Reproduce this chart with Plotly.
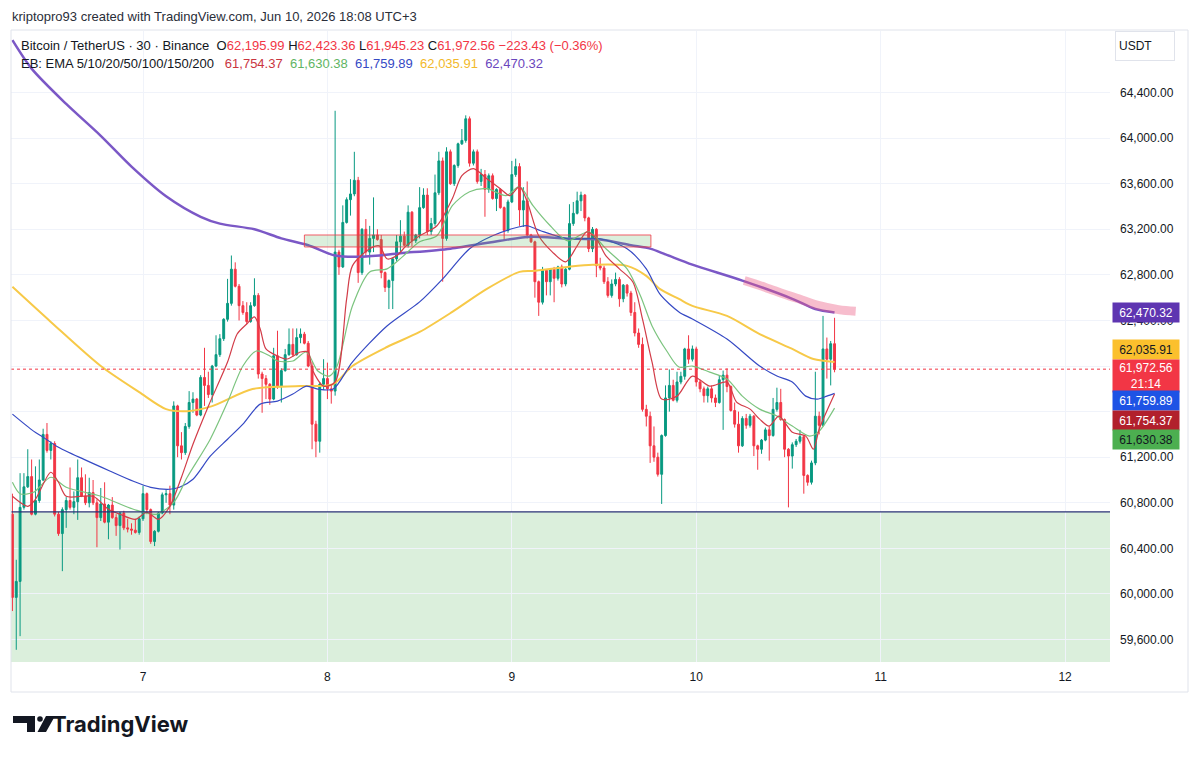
import numpy as np
import pandas as pd
import plotly.graph_objects as go

# BTCUSDT 30m candles (Binance)
first_candle = '2026-06-06 07:00'

opens = [
    60700, 59970, 60110, 60760, 60940, 61030, 60700, 60820, 61000, 61400,
    61260, 61320, 60700, 60530, 60740, 60820, 60760, 60810, 61020, 60860,
    60800, 60890, 60800, 60670, 60790, 60630, 60780, 60670, 60600, 60710,
    60580, 60570, 60560, 60540, 60660, 60880, 60740, 60460, 60550, 60710,
    60870, 60880, 60780, 61650, 61300, 61240, 61470, 61680, 61710, 61570,
    61900, 61830, 61750, 62000, 62100, 62240, 62410, 62550, 62850, 62700,
    62530, 62470, 62390, 62530, 62620, 61930, 61890, 61840, 61710, 62090,
    61820, 61960, 62100, 62190, 62100, 62250, 62280, 62200, 62000, 61490,
    61340, 61840, 61890, 61800, 61780, 63000, 62870, 63260, 63460, 63510,
    63630, 62820, 63200, 63000, 63120, 63150, 63110, 62820, 62690, 62750,
    62940, 63090, 63140, 63060, 63350, 63100, 63150, 63390, 63500, 63180,
    63250, 63520, 63800, 63120, 63880, 63600, 63760, 63950, 63980, 64170,
    63780, 63880, 63620, 63680, 63550, 63670, 63470, 63550, 63390, 63190,
    63440, 63680, 63750, 63370, 63450, 63150, 63090, 62740, 62560, 62840,
    62740, 62850, 62770, 62870, 62720, 62850, 63250, 63340, 63450, 63500,
    63300, 63030, 63200, 62880, 62860, 62740, 62620, 62720, 62760, 62590,
    62710, 62640, 62470, 62290, 62190, 61620, 61560, 61300, 61200, 61050,
    61390, 61720, 61830, 61700, 61860, 61910, 62150, 62060, 62150, 61860,
    61800, 61740, 61800, 61720, 61680, 61880, 61920, 61820, 61610, 61490,
    61300, 61540, 61480, 61560, 61300, 61270, 61350, 61440, 61390, 61620,
    61680, 61530, 61270, 61210, 61310, 61340, 61380, 61040, 60980, 61150,
    61560, 61480, 62150, 62060, 62195.99]
highs = [
    60880, 60300, 61060, 61060, 61270, 61180, 61120, 61180, 61450, 61500,
    61340, 61340, 60720, 60760, 60850, 61110, 60900, 61180, 61110, 61050,
    61020, 61000, 60830, 60930, 60980, 60790, 60850, 60700, 60720, 60730,
    60660, 60620, 60660, 60680, 60950, 60890, 60750, 60560, 60720, 60890,
    60920, 60950, 61690, 61660, 61420, 61500, 61780, 61770, 61720, 61920,
    62160, 61950, 62010, 62270, 62280, 62420, 62765, 62970, 62910, 62720,
    62570, 62560, 62560, 62770, 62640, 61950, 61920, 61850, 62160, 62310,
    61980, 62150, 62330, 62330, 62330, 62330, 62300, 62220, 62040, 61520,
    61860, 62060, 62030, 61840, 64240, 63020, 63410, 63480, 63640, 63880,
    63660, 63210, 63290, 63230, 63480, 63200, 63150, 62830, 62760, 62950,
    63150, 63280, 63180, 63410, 63360, 63160, 63570, 63560, 63560, 63300,
    63680, 63880, 63830, 63920, 63900, 63770, 63960, 64080, 64200, 64190,
    63900, 63900, 63730, 63720, 63690, 63690, 63560, 63560, 63400, 63460,
    63800, 63820, 63780, 63570, 63620, 63160, 63100, 62750, 62870, 62850,
    62860, 62870, 62880, 62890, 62860, 63420, 63440, 63530, 63530, 63510,
    63310, 63220, 63210, 62950, 62880, 62780, 62760, 62820, 62780, 62720,
    62720, 62660, 62560, 62330, 62250, 61660, 61600, 61470, 61240, 61400,
    61830, 61970, 61880, 61950, 61950, 62160, 62270, 62180, 62170, 61880,
    61820, 61820, 61830, 61750, 61920, 61960, 61980, 61830, 61680, 61600,
    61560, 61580, 61580, 61570, 61310, 61360, 61460, 61470, 61720, 61810,
    61800, 61540, 61280, 61330, 61360, 61440, 61390, 61050, 61170, 61950,
    61600, 62440, 62250, 62220, 62423.36]
lows = [
    59850, 59510, 59630, 60740, 60930, 60690, 60690, 60800, 60990, 61240,
    61180, 60680, 60510, 60200, 60580, 60740, 60700, 60650, 60850, 60780,
    60760, 60780, 60410, 60640, 60620, 60480, 60660, 60510, 60390, 60560,
    60540, 60520, 60530, 60520, 60640, 60700, 60440, 60420, 60540, 60700,
    60800, 60700, 60740, 61200, 61180, 61220, 61450, 61590, 61560, 61560,
    61650, 61720, 61680, 61990, 62080, 62220, 62390, 62530, 62690, 62400,
    62450, 62370, 62380, 62520, 61890, 61590, 61710, 61660, 61700, 61800,
    61680, 61950, 62090, 62080, 62090, 62200, 62190, 61990, 61270, 61200,
    61240, 61790, 61710, 61670, 61740, 62800, 62860, 63250, 63320, 63490,
    62730, 62800, 62960, 62890, 63000, 63100, 62770, 62650, 62500, 62500,
    62920, 63000, 63050, 63040, 63050, 63080, 63120, 63380, 63150, 63150,
    63230, 63500, 62740, 63100, 63590, 63580, 63740, 63940, 63960, 63750,
    63760, 63600, 63580, 63310, 63520, 63460, 63360, 63380, 63100, 63170,
    63430, 63660, 63230, 63220, 63120, 63080, 62600, 62440, 62540, 62620,
    62620, 62560, 62750, 62690, 62700, 62840, 63230, 63330, 63360, 63270,
    63000, 63000, 62780, 62840, 62720, 62600, 62600, 62700, 62520, 62560,
    62610, 62440, 62260, 62160, 61600, 61470, 61150, 61160, 61030, 60790,
    61380, 61600, 61690, 61680, 61840, 61880, 62020, 62040, 61820, 61770,
    61680, 61680, 61680, 61640, 61670, 61440, 61770, 61600, 61460, 61240,
    61290, 61450, 61460, 61210, 61090, 61230, 61340, 61170, 61380, 61600,
    61520, 61200, 60760, 61100, 61290, 61320, 60880, 60950, 60960, 61130,
    61400, 61470, 61890, 61830, 61945.23]
closes = [
    59970, 60110, 60760, 60940, 61030, 60700, 60820, 61000, 61400, 61260,
    61320, 60700, 60530, 60740, 60820, 60760, 60810, 61020, 60860, 60800,
    60890, 60800, 60670, 60790, 60630, 60780, 60670, 60600, 60710, 60580,
    60570, 60560, 60540, 60660, 60880, 60740, 60460, 60550, 60710, 60870,
    60880, 60780, 61650, 61300, 61240, 61470, 61680, 61710, 61570, 61900,
    61830, 61750, 62000, 62100, 62240, 62410, 62550, 62850, 62700, 62530,
    62470, 62390, 62530, 62620, 61930, 61890, 61840, 61710, 62090, 61820,
    61960, 62100, 62190, 62100, 62250, 62280, 62200, 62000, 61490, 61340,
    61840, 61890, 61800, 61780, 63000, 62870, 63260, 63460, 63510, 63630,
    62820, 63200, 63000, 63120, 63150, 63110, 62820, 62690, 62750, 62940,
    63090, 63140, 63060, 63350, 63100, 63150, 63390, 63500, 63180, 63250,
    63520, 63800, 63120, 63880, 63600, 63760, 63950, 63980, 64170, 63780,
    63880, 63620, 63680, 63550, 63670, 63470, 63550, 63390, 63190, 63440,
    63680, 63750, 63370, 63450, 63150, 63090, 62740, 62560, 62840, 62740,
    62850, 62770, 62870, 62720, 62850, 63250, 63340, 63450, 63500, 63300,
    63030, 63200, 62880, 62860, 62740, 62620, 62720, 62760, 62590, 62710,
    62640, 62470, 62290, 62190, 61620, 61560, 61300, 61200, 61050, 61390,
    61720, 61830, 61700, 61860, 61910, 62150, 62060, 62150, 61860, 61800,
    61740, 61800, 61720, 61680, 61880, 61920, 61820, 61610, 61490, 61300,
    61540, 61480, 61560, 61300, 61270, 61350, 61440, 61390, 61620, 61680,
    61530, 61270, 61210, 61310, 61340, 61380, 61040, 60980, 61150, 61560,
    61480, 62150, 62060, 62195.99, 61972.56]

# EMA lines, sampled at candle numbers (0 = first candle)
ema_red_at = [0, 4, 6, 10, 12, 14, 21, 25, 28, 32, 35, 38, 41, 44, 47, 51, 56, 58.5, 61, 63,
              64.5, 66, 69, 71.5, 75, 77, 78, 81, 84, 87, 88.5, 93, 95.5, 97.5, 100, 102.5,
              106, 110.5, 114.5, 117, 120, 123.5, 127, 129.5, 132, 134, 137, 140.5, 144, 147,
              149.5, 152, 154.5, 158, 161.5, 164, 166.5, 169, 173, 177, 181.5, 186, 188.5,
              192, 194.5, 197, 199.5, 203, 206.5, 208.5, 210, 214]
ema_red = [60857, 60769, 60831, 61068, 60980, 60857, 60857, 60743, 60699, 60655, 60717, 60655,
           60769, 61024, 61314, 61648, 62035, 62281, 62369, 62431, 62325, 62150, 62088, 62062,
           62123, 62123, 61974, 61824, 61860, 62589, 62879, 63029, 63055, 62941, 62967, 63055,
           63143, 63231, 63468, 63670, 63732, 63644, 63556, 63495, 63574, 63442, 63143, 63002,
           62914, 63055, 63178, 63117, 62967, 62853, 62738, 62413, 62035, 61710, 61736, 61912,
           61824, 61859, 61684, 61622, 61534, 61473, 61561, 61420, 61385, 61270, 61446, 61754.37]

ema_green_at = [0, 2, 5.5, 10, 14, 23, 31.5, 37.5, 42, 45.5, 51.5, 56, 60, 63.5, 67, 69, 73, 76.5,
                79.5, 82.5, 84.5, 88.5, 93, 97.5, 101.5, 106, 110.5, 114.5, 119, 123.5, 128.5,
                132, 135.5, 140, 144.5, 150, 154.5, 160, 163.5, 166.5, 170.5, 173.5, 177, 181.5,
                186, 190, 194.5, 199, 203, 207.5, 210, 214]
ema_green = [60980, 60880, 60892, 61024, 60936, 60857, 60743, 60699, 60804, 61024, 61358, 61684,
             62000, 62132, 62088, 62044, 62044, 62123, 61956, 61912, 62000, 62527, 62826, 62853,
             62958, 63090, 63143, 63407, 63530, 63556, 63495, 63574, 63407, 63231, 63099, 63178,
             63029, 62853, 62615, 62352, 62123, 61991, 62000, 61947, 61886, 61736, 61622, 61561,
             61473, 61385, 61429, 61630.38]

ema_blue_at = [0, 5.5, 8, 11.5, 18.5, 25.5, 31.5, 36, 41, 43.5, 47, 51.5, 56, 60, 64.5, 69, 73,
               76.5, 79.5, 83.5, 88.5, 97.5, 106, 112, 119, 125, 132, 134, 137.5, 144.5, 153,
               160, 165, 168.5, 173.5, 177, 186, 194.5, 199, 203, 206.5, 209.5, 212, 214]
ema_blue = [61578, 61429, 61376, 61297, 61183, 61077, 60989, 60936, 60919, 60936, 61007, 61209,
            61358, 61490, 61666, 61692, 61754, 61824, 61798, 61798, 62035, 62352, 62563, 62765,
            63029, 63143, 63222, 63231, 63187, 63117, 63117, 63029, 62853, 62633, 62475, 62413,
            62237, 62000, 61912, 61859, 61736, 61710, 61736, 61759.89]

ema_yellow_at = [0, 10, 23, 33, 40, 45.5, 52, 62.5, 75, 83.5, 88.5, 97.5, 106, 114.5, 123.5, 132,
                 135.5, 144.5, 151, 160, 165, 168.5, 173.5, 177, 186, 194.5, 203, 208.5, 214]
ema_yellow = [62695, 62387, 62000, 61771, 61622, 61604, 61648, 61798, 61824, 61842, 62000, 62167,
              62299, 62475, 62677, 62826, 62835, 62870, 62888, 62879, 62791, 62677, 62589, 62528,
              62440, 62281, 62150, 62062, 62035.91]

ema_purple_at = [0, 5, 14, 23, 31, 40, 49, 54, 63, 70, 77, 84, 91, 101, 114, 127, 135, 144, 153,
                 161, 166, 170, 177, 190, 203, 209, 214]
ema_purple = [64860, 64610, 64300, 64020, 63750, 63490, 63310, 63250, 63200, 63120, 63060, 62970,
              62960, 62990, 63030, 63100, 63135, 63120, 63110, 63060, 63030, 62980, 62890, 62750,
              62590, 62500, 62470.32]

# drawings on the chart
support_level = 60720
box_times = ['2026-06-07 21:00', '2026-06-09 18:06']
box_prices = [63045, 63150]
marker_at = [190.5, 196, 201, 205.5, 210, 215, 219.5]
marker = [62750, 62690, 62630, 62580, 62530, 62495, 62480]

day_labels = ['7', '8', '9', '10', '11', '12']
day_dates = ['2026-06-07', '2026-06-08', '2026-06-09', '2026-06-10', '2026-06-11', '2026-06-12']
price_ticks = [59600, 60000, 60400, 60800, 61200, 61600, 62000, 62400, 62800, 63200, 63600,
               64000, 64400]
covered_ticks = [61600, 62000]   # hidden behind the price labels on the scale
countdown = '21:14'

UP = '#089981'
DOWN = '#f23645'
TEXT = '#131722'
GRID = '#f0f3fa'

# the page body adds 8px on the left and top, so the figure is 8px smaller
OFF = 8
W, H = 1192, 749
ML, MR, MT, MB = 3, 90, 23, 95


def px(x):
    # screenshot pixel -> paper x
    return (x - OFF - ML) / (W - ML - MR)


def py(y):
    # screenshot pixel -> paper y
    return (H - MB - (y - OFF)) / (H - MT - MB)


t0 = pd.Timestamp(first_candle)


def at(idx):
    return t0 + pd.to_timedelta(np.asarray(idx, dtype=float) * 30, unit='min')


times = at(np.arange(len(closes)))

fig = go.Figure()
fig.add_trace(go.Candlestick(
    x=times, open=opens, high=highs, low=lows, close=closes,
    increasing=dict(line=dict(color=UP, width=1), fillcolor=UP),
    decreasing=dict(line=dict(color=DOWN, width=1), fillcolor=DOWN),
    whiskerwidth=0, showlegend=False, hoverinfo='skip'))

emas = [
    (ema_purple_at, ema_purple, '#7b58c6', 2.5),
    (ema_yellow_at, ema_yellow, '#f7c948', 2),
    (ema_blue_at, ema_blue, '#3549c4', 1.2),
    (ema_green_at, ema_green, '#7cc47f', 1.2),
    (ema_red_at, ema_red, '#d23c48', 1.2),
]
for xs, ys, color, width in emas:
    fig.add_trace(go.Scatter(
        x=at(xs), y=ys, mode='lines', showlegend=False, hoverinfo='skip',
        line=dict(color=color, width=width, shape='spline', smoothing=0.8)))

# pink highlight over the 200 EMA
fig.add_trace(go.Scatter(
    x=at(marker_at), y=marker, mode='lines', showlegend=False, hoverinfo='skip',
    line=dict(color='rgba(236,90,130,0.4)', width=9, shape='spline')))

y_range = [59403, 64940]

fig.add_shape(type='rect', xref='paper', yref='y', x0=0, x1=1, y0=y_range[0], y1=support_level,
              fillcolor='rgba(76,175,80,0.2)', line_width=0, layer='below')
fig.add_shape(type='line', xref='paper', yref='y', x0=0, x1=1, y0=support_level, y1=support_level,
              line=dict(color='#283075', width=1.2))
fig.add_shape(type='rect', xref='x', yref='y', x0=box_times[0], x1=box_times[1],
              y0=box_prices[0], y1=box_prices[1], fillcolor='rgba(76,175,80,0.2)',
              line=dict(color='rgba(242,54,69,0.8)', width=1))
fig.add_shape(type='line', xref='paper', yref='y', x0=0, x1=1, y0=closes[-1], y1=closes[-1],
              line=dict(color=DOWN, width=1, dash='dot'))
# pane frame
fig.add_shape(type='rect', xref='paper', yref='paper', x0=px(11), x1=px(1188), y0=py(692), y1=py(30),
              line=dict(color='#e0e3eb', width=1))


# TradingView logo glyph
def path(points):
    return 'M ' + ' L '.join(f'{px(x):.5f},{py(y):.5f}' for x, y in points) + ' Z'


fig.add_shape(type='path', xref='paper', yref='paper', fillcolor=TEXT, line_width=0,
              path=path([(13, 716), (35, 716), (35, 732), (27, 732), (27, 723), (13, 723)]))
fig.add_shape(type='circle', xref='paper', yref='paper', fillcolor=TEXT, line_width=0,
              x0=px(37.2), x1=px(42.8), y0=py(721.8), y1=py(716.2))
fig.add_shape(type='path', xref='paper', yref='paper', fillcolor=TEXT, line_width=0,
              path=path([(46, 716), (55, 716), (46, 732), (37.5, 732)]))


def span(t, c):
    return f'<span style="color:{c}">{t}</span>'


def num(v):
    return f'{v:,.2f}'.replace('-', '\u2212')


sp = '\u00a0'
chg = closes[-1] - closes[-2]
pct = chg / closes[-2] * 100
line1 = (span('Bitcoin / TetherUS · 30 · Binance', TEXT) + sp * 2
         + span('O', TEXT) + span(num(opens[-1]), DOWN) + sp
         + span('H', TEXT) + span(num(highs[-1]), DOWN) + sp
         + span('L', TEXT) + span(num(lows[-1]), DOWN) + sp
         + span('C', TEXT) + span(num(closes[-1]), DOWN) + sp
         + span(f'{num(chg)} ({num(pct)}%)', DOWN))
line2 = (span('EB: EMA 5/10/20/50/100/150/200', TEXT) + sp * 3
         + span(num(ema_red[-1]), '#c9353f') + sp * 2
         + span(num(ema_green[-1]), '#5fb563') + sp * 2
         + span(num(ema_blue[-1]), '#3549c4') + sp * 2
         + span(num(ema_yellow[-1]), '#f2b92a') + sp * 2
         + span(num(ema_purple[-1]), '#6a46bd'))

font = 'Liberation Sans'
ann = [
    dict(x=px(10), y=py(16), text='kriptopro93 created with TradingView.com, Jun 10, 2026 18:08 UTC+3',
         font=dict(size=13, color='#2a2e39')),
    dict(x=px(19), y=py(46), text=line1, font=dict(size=13)),
    dict(x=px(19), y=py(64), text=line2, font=dict(size=13)),
    dict(x=px(50), y=py(724), text='<b>TradingView</b>', font=dict(size=22, color=TEXT, family='Inter')),
    dict(x=px(1115), y=py(46), text='USDT', font=dict(size=12, color=TEXT), bordercolor='#e0e3eb',
         bgcolor='white', borderwidth=1, borderpad=3, width=52, height=22, align='left'),
]
for a in ann:
    fig.add_annotation(xref='paper', yref='paper', xanchor='left', yanchor='middle', showarrow=False, **a)

# price labels on the scale (value, text, background, text colour, shift to avoid overlap, height)
labels = [
    (ema_purple[-1], num(ema_purple[-1]), '#5e35b1', 'white', 0, 17),
    (ema_yellow[-1], num(ema_yellow[-1]), '#fbc02d', TEXT, 12, 17),
    (closes[-1], num(closes[-1]) + '<br>' + countdown, '#f23645', 'white', -6.5, 30),
    (ema_blue[-1], num(ema_blue[-1]), '#1e53e5', 'white', -7.5, 17),
    (ema_red[-1], num(ema_red[-1]), '#b2202c', 'white', -26, 17),
    (ema_green[-1], num(ema_green[-1]), '#4caf50', TEXT, -31, 17),
]
for val, txt, bg, fg, shift, h in labels:
    fig.add_annotation(xref='paper', yref='y', x=px(1112), y=val, yshift=shift, text=txt,
                       xanchor='left', yanchor='middle', showarrow=False, bgcolor=bg,
                       font=dict(size=12, color=fg), width=64, height=h, align='center')

tick_text = ['' if v in covered_ticks else f'{v:,.2f}' for v in price_ticks]

fig.update_layout(
    width=W, height=H, margin=dict(l=ML, r=MR, t=MT, b=MB),
    paper_bgcolor='white', plot_bgcolor='white',
    font=dict(family=font, color=TEXT, size=12),
    xaxis=dict(type='date', range=['2026-06-06 06:49', '2026-06-12 05:51'],
               tickvals=day_dates, ticktext=day_labels, showgrid=True, gridcolor=GRID,
               zeroline=False, showline=False, ticks='', rangeslider=dict(visible=False),
               tickfont=dict(size=12, color=TEXT), ticklabelstandoff=6),
    yaxis=dict(range=y_range, side='right', tickvals=price_ticks, ticktext=tick_text,
               showgrid=True, gridcolor=GRID, zeroline=False, showline=False, ticks='',
               tickfont=dict(size=12, color=TEXT), ticklabelstandoff=9),
)

fig.write_html('out.html')
